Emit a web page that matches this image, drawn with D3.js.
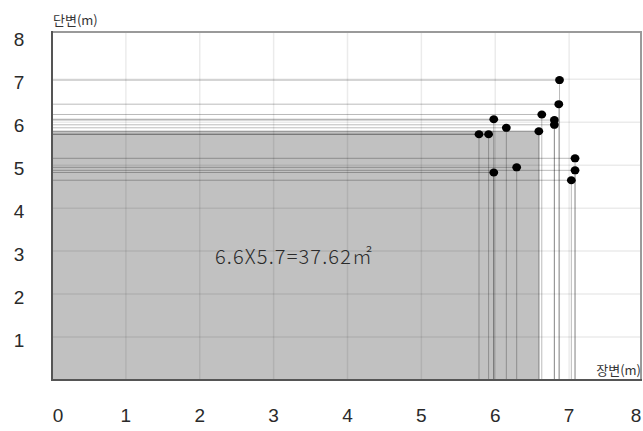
<!DOCTYPE html>
<html><head><meta charset="utf-8">
<script src="https://cdn.jsdelivr.net/npm/d3@7"></script>
<style>html,body{margin:0;padding:0;background:#fff;}svg{display:block;}</style>
</head><body>
<svg id="c" width="643" height="431"></svg>
<script>
const xTicks = [0,1,2,3,4,5,6,7,8];
const yTicks = [1,2,3,4,5,6,7,8];
const longSide  = [6.87,6.86,6.63,6.80,6.80,5.98,6.15,6.59,5.78,5.91,7.08,7.08,7.03,6.29,5.98];
const shortSide = [6.98,6.42,6.18,6.05,5.94,6.07,5.87,5.79,5.72,5.72,5.16,4.88,4.65,4.95,4.83];
const areaLong = 6.6, areaShortDrawn = 5.8;
const areaLabel = "6.6X5.7=37.62㎡";
const xTitle = "장변(m)", yTitle = "단변(m)";

const svg = d3.select("#c");
const x = d3.scaleLinear().domain([0,8]).range([52,643]);
const y = d3.scaleLinear().domain([0,8.1]).range([380,32]);
const L = 52, R = 641, T = 32, B = 380;

svg.append("rect").attr("x",x(0)).attr("y",y(areaShortDrawn))
  .attr("width",x(areaLong)-x(0)).attr("height",y(0)-y(areaShortDrawn))
  .attr("fill","#c1c1c1");

const g = svg.append("g");
g.selectAll("line.gx").data(xTicks.filter(d=>d>0&&d<8)).join("line")
  .attr("x1",d=>x(d)).attr("x2",d=>x(d)).attr("y1",T).attr("y2",B)
  .attr("stroke","#000").attr("stroke-opacity",0.08).attr("stroke-width",1.5);
g.selectAll("line.gy").data(yTicks.filter(d=>d<8)).join("line")
  .attr("y1",d=>y(d)).attr("y2",d=>y(d)).attr("x1",L).attr("x2",R)
  .attr("stroke","#000").attr("stroke-opacity",0.08).attr("stroke-width",1.5);

const pts = longSide.map((v,i)=>({lx:v, sy:shortSide[i]}));
svg.append("g").selectAll("line").data(pts).join("line")
  .attr("x1",L).attr("x2",d=>x(d.lx)).attr("y1",d=>y(d.sy)).attr("y2",d=>y(d.sy))
  .attr("stroke","#000").attr("stroke-opacity",0.27).attr("stroke-width",1);
svg.append("g").selectAll("line").data(pts).join("line")
  .attr("x1",d=>x(d.lx)).attr("x2",d=>x(d.lx)).attr("y1",d=>y(d.sy)).attr("y2",B)
  .attr("stroke","#000").attr("stroke-opacity",0.27).attr("stroke-width",1);

svg.append("text").attr("x",215).attr("y",264).attr("textLength",157)
  .attr("lengthAdjust","spacing")
  .attr("font-family","'Noto Sans CJK KR','Noto Sans',sans-serif").attr("font-size",20)
  .attr("font-weight",300)
  .attr("fill","#2a2a2a").text(areaLabel);

// borders
svg.append("line").attr("x1",L).attr("x2",R+1).attr("y1",T).attr("y2",T).attr("stroke","#9a9a9a").attr("stroke-width",2);
svg.append("line").attr("x1",R).attr("x2",R).attr("y1",T).attr("y2",B).attr("stroke","#9a9a9a").attr("stroke-width",2);
svg.append("line").attr("x1",L).attr("x2",L).attr("y1",T-1).attr("y2",B+1).attr("stroke","#555").attr("stroke-width",2);
svg.append("line").attr("x1",L-1).attr("x2",R+1).attr("y1",B).attr("y2",B).attr("stroke","#555").attr("stroke-width",2);

svg.append("g").selectAll("ellipse").data(pts).join("ellipse")
  .attr("cx",d=>x(d.lx)).attr("cy",d=>y(d.sy)).attr("rx",4.4).attr("ry",4).attr("fill","#000");

// tick labels
svg.append("g").selectAll("text").data(xTicks).join("text")
  .attr("x",d=> d===0 ? x(d)+6 : d===8 ? x(d)-7 : x(d))
  .attr("y",422).attr("text-anchor","middle")
  .attr("font-family","'Liberation Sans',Arial,sans-serif").attr("font-size",19).attr("fill","#2a2a2a")
  .text(d=>d);
svg.append("g").selectAll("text").data(yTicks).join("text")
  .attr("x",19).attr("y",d=>y(d)+10).attr("text-anchor","middle")
  .attr("font-family","'Liberation Sans',Arial,sans-serif").attr("font-size",19).attr("fill","#2a2a2a")
  .text(d=>d);

svg.append("text").attr("x",641).attr("y",375).attr("text-anchor","end")
  .attr("font-family","'Noto Sans CJK KR',sans-serif").attr("font-size",13).attr("fill","#333").text(xTitle);
svg.append("text").attr("x",53).attr("y",25)
  .attr("font-family","'Noto Sans CJK KR',sans-serif").attr("font-size",13).attr("fill","#333").text(yTitle);
</script>
</body></html>
